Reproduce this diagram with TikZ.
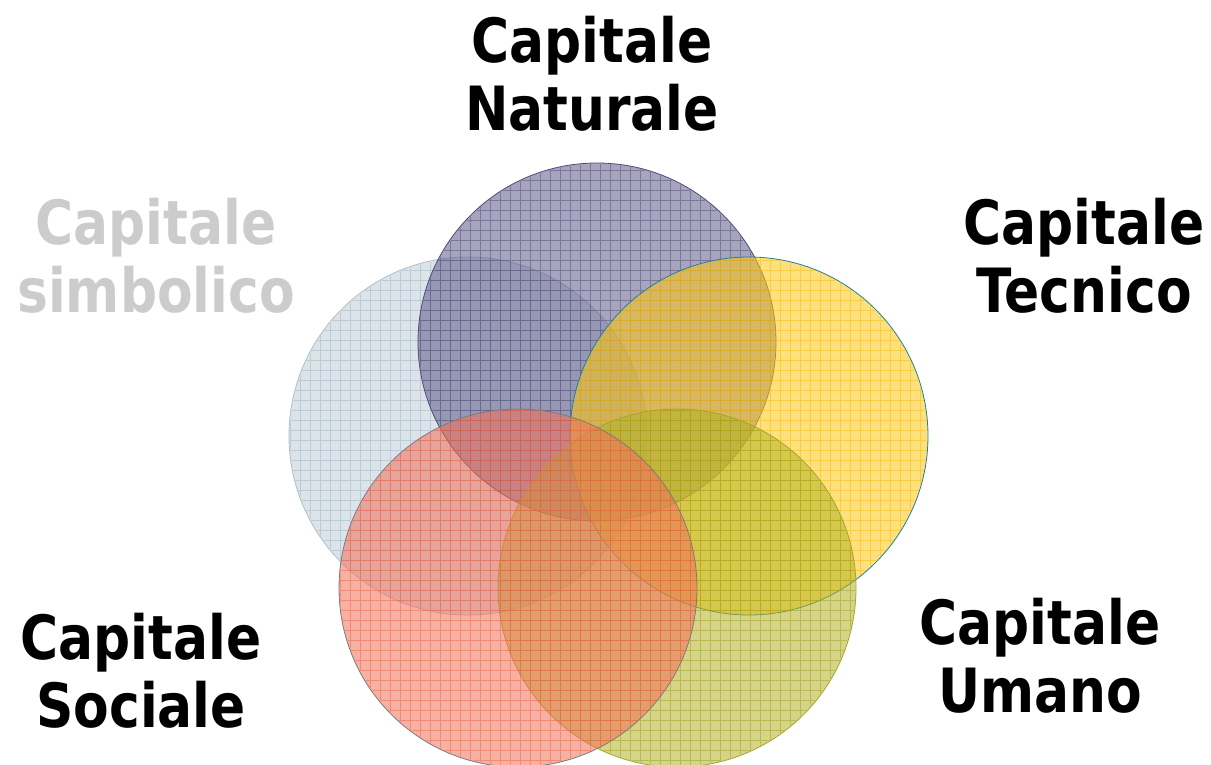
\documentclass[tikz,border=0pt]{standalone}
\usepackage{fontspec}
\setmainfont{DejaVu Sans}[FakeStretch=0.85]
\usepackage{xcolor}

\definecolor{simfill}{RGB}{191,206,217}
\definecolor{simgrid}{RGB}{150,175,190}
\definecolor{simline}{RGB}{175,190,200}
\definecolor{natfill}{RGB}{95,90,137}
\definecolor{natgrid}{RGB}{70,65,110}
\definecolor{natline}{RGB}{80,75,120}
\definecolor{tecfill}{RGB}{255,199,22}
\definecolor{tecgrid}{RGB}{240,185,0}
\definecolor{tecline}{RGB}{30,130,150}
\definecolor{umafill}{RGB}{180,179,37}
\definecolor{umagrid}{RGB}{150,150,20}
\definecolor{umaline}{RGB}{165,165,50}
\definecolor{socfill}{RGB}{239,113,88}
\definecolor{socgrid}{RGB}{235,90,60}
\definecolor{socline}{RGB}{130,120,120}
\definecolor{simtext}{RGB}{204,204,204}

\tikzset{
  ring/.style={circle, minimum size=358pt, inner sep=0pt, fill opacity=0.55, line width=0.8pt},
  meshline/.style={line width=0.7pt, draw opacity=0.45},
  title/.style={font=\fontsize{61}{68}\selectfont\bfseries, align=center}
}

\newcommand{\ringmesh}[2]{%
  \begin{scope}
    \clip (#1.center) circle (178pt);
    \draw[meshline, #2, step=10pt] ([shift={(-185,-185)}]#1.center) grid ([shift={(185,185)}]#1.center);
  \end{scope}}

\begin{document}
\begin{tikzpicture}[x=1pt,y=-1pt]
          \useasboundingbox (0,0) rectangle (1211,764);
          \node[ring, fill=simfill, draw=simline] (sim) at (468,436) {};
          \ringmesh{sim}{simgrid}
          \node[ring, fill=natfill, draw=natline] (nat) at (597,342) {};
          \ringmesh{nat}{natgrid}
          \node[ring, fill=tecfill, draw=tecline] (tec) at (749,436) {};
          \ringmesh{tec}{tecgrid}
          \node[ring, fill=umafill, draw=umaline] (uma) at (677,588) {};
          \ringmesh{uma}{umagrid}
          \node[ring, fill=socfill, draw=socline] (soc) at (518,588) {};
          \ringmesh{soc}{socgrid}
          \node[title] (tnat) at (592,74) {Capitale\\Naturale};
          \node[title] (ttec) at (1084,256) {Capitale\\Tecnico};
          \node[title, text=simtext] (tsim) at (156,256) {Capitale\\simbolico};
          \node[title] (tuma) at (1040,656) {Capitale\\Umano};
          \node[title] (tsoc) at (141,671) {Capitale\\Sociale};
        \end{tikzpicture}
\end{document}
